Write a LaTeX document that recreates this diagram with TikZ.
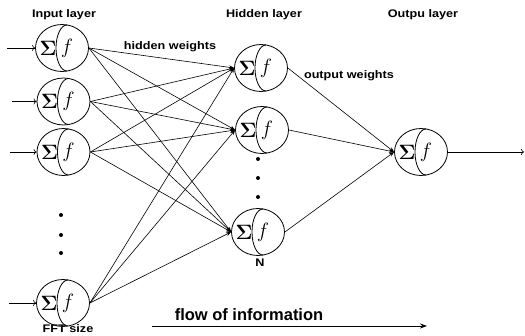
\documentclass[tikz,border=0pt]{standalone}
\usepackage[no-math]{fontspec}
\setmainfont{Liberation Sans}
\newfontfamily\widefont[FakeStretch=1.15]{Liberation Sans}
\usepackage{amsmath}
\usetikzlibrary{shapes.geometric,arrows.meta,calc}

\tikzset{
  neuron/.style={draw,ellipse,minimum width=53pt,minimum height=47pt,inner sep=0pt,line width=0.8pt},
  lbl/.style={font=\widefont\bfseries\fontsize{11}{13}\selectfont,anchor=base,inner sep=0pt},
  conn/.style={-{Stealth[length=5pt,width=4pt]},line width=0.6pt},
  inarr/.style={-{To[length=3pt,width=6pt]},line width=0.6pt},
  dot/.style={circle,fill,inner sep=0pt,minimum size=4pt},
}
% neuron: name, x, y
\newcommand{\neuron}[3]{%
  \node[neuron] (#1) at (#2,#3) {};
  \draw[line width=0.8pt] ($(#1.center)+(5,-23)$) arc[start angle=90,end angle=270,x radius=11pt,y radius=23pt];
  \node (#1s) at ($(#1.center)+(-14,0)$) {\fontsize{21}{21}\selectfont$\mathbf{\Sigma}$};
  \node (#1f) at ($(#1.center)+(5,0)$) {\fontsize{20}{20}\selectfont$f$};
}

\begin{document}
\begin{tikzpicture}[x=1pt,y=-1pt]
\useasboundingbox (0,0) rectangle (525,336);
% layers
\neuron{i1}{62}{48}
\neuron{i2}{63.5}{101.5}
\neuron{i3}{63.5}{152}
\neuron{i4}{63}{303}
\neuron{h1}{261}{68}
\neuron{h2}{262}{130}
\neuron{h3}{258}{232}
\neuron{o}{421}{152}
% labels
\node[lbl] (linput) at (64,18) {Input layer};
\node[lbl] (lhidden) at (264,18) {Hidden layer};
\node[lbl] (loutput) at (423,18) {Outpu layer};
\node[lbl] (lhw) at (170,50) {hidden weights};
\node[lbl] (low) at (349,79) {output weights};
\node[lbl] (lfft) at (68,333) {FFT size};
\node[lbl] (ln) at (260,267) {N};
\node[lbl,font=\bfseries\fontsize{16.5}{18}\selectfont] (lflow) at (249,321) {flow of information};
% dots
\foreach \y [count=\k] in {215,235,253} \node[dot] (di\k) at (61,\y) {};
\foreach \y [count=\k] in {159,178,197} \node[dot] (dh\k) at (258,\y) {};
% inputs
\foreach \x/\y [count=\k] in {7/48,12/101.5,10/152,9/303} {
  \coordinate (in\k) at (\x,\y);
  \draw[inarr] (in\k) -- (i\k.west);
}
% weights
\foreach \i in {i1,i2,i3,i4}
  \foreach \h in {h1,h2,h3}
    \draw[conn] (\i.east) -- (\h.west);
\foreach \h in {h1,h2,h3}
  \draw[conn] (\h.east) -- (o.west);
\coordinate (out) at (524,152);
\draw[inarr] (o.east) -- (out);
% flow
\coordinate (f1) at (152,326);
\coordinate (f2) at (427,326);
\draw[-{Stealth[length=7pt,width=5pt]},line width=0.9pt] (f1) -- (f2);
\end{tikzpicture}
\end{document}
